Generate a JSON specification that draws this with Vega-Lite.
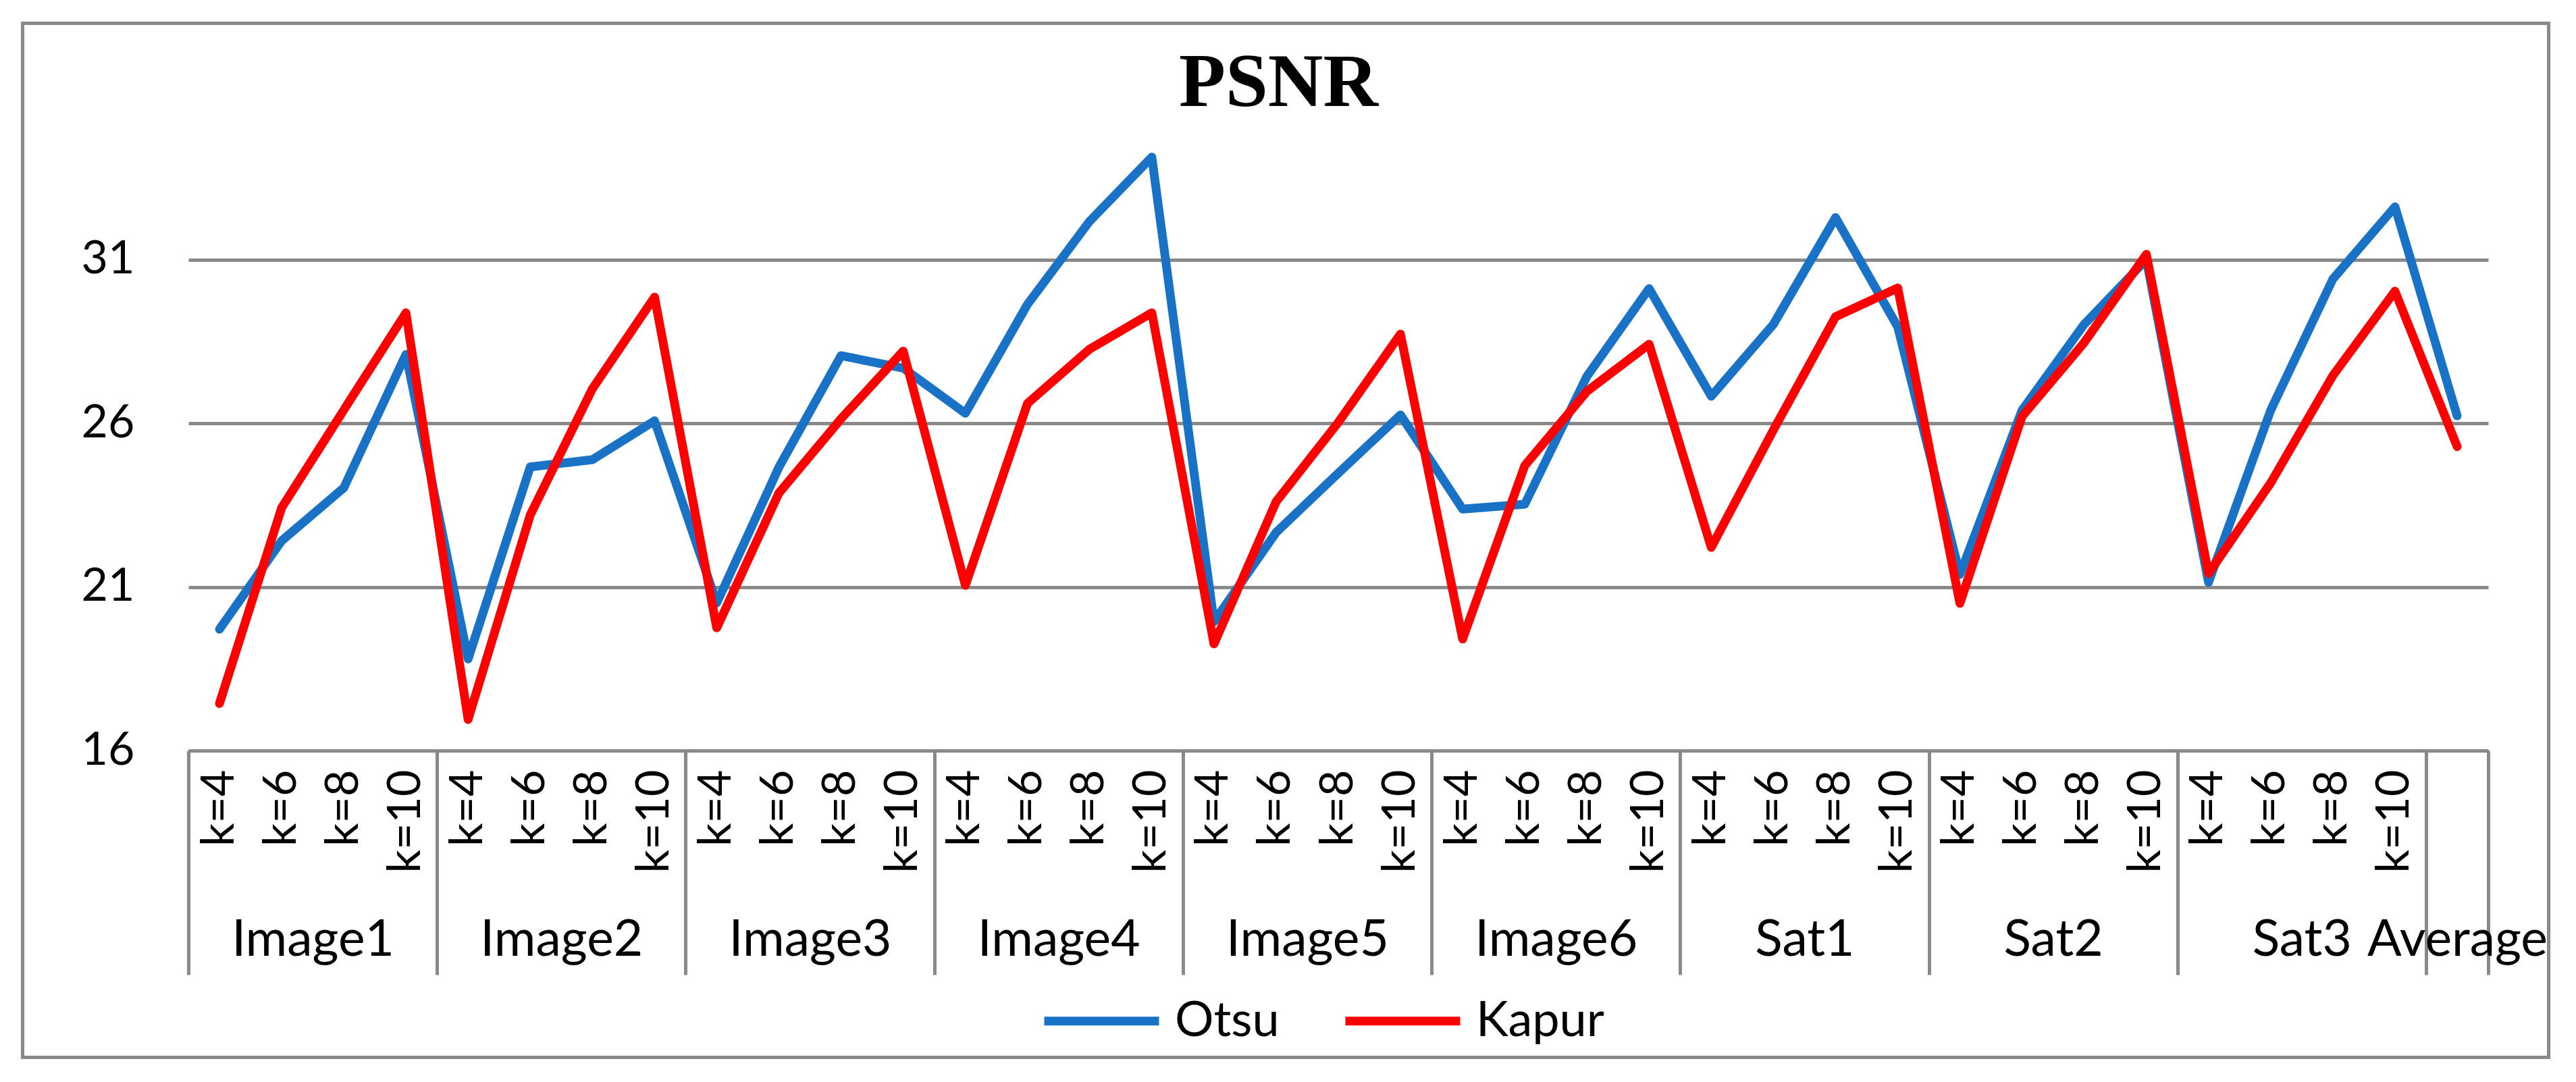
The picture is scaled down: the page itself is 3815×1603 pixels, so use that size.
{
 "$schema": "https://vega.github.io/schema/vega-lite/v6.json",
 "width": 3406,
 "height": 921,
 "autosize": {"type": "none"},
 "padding": {"left": 279, "top": 191, "right": 130, "bottom": 491},
 "background": "white",
 "data": {"values": [
  {"i":0,"cat":"Image1 k=4","method":"Otsu","psnr":19.71},
  {"i":1,"cat":"Image1 k=6","method":"Otsu","psnr":22.41},
  {"i":2,"cat":"Image1 k=8","method":"Otsu","psnr":24.03},
  {"i":3,"cat":"Image1 k=10","method":"Otsu","psnr":28.11},
  {"i":4,"cat":"Image2 k=4","method":"Otsu","psnr":18.80},
  {"i":5,"cat":"Image2 k=6","method":"Otsu","psnr":24.67},
  {"i":6,"cat":"Image2 k=8","method":"Otsu","psnr":24.89},
  {"i":7,"cat":"Image2 k=10","method":"Otsu","psnr":26.08},
  {"i":8,"cat":"Image3 k=4","method":"Otsu","psnr":20.51},
  {"i":9,"cat":"Image3 k=6","method":"Otsu","psnr":24.66},
  {"i":10,"cat":"Image3 k=8","method":"Otsu","psnr":28.07},
  {"i":11,"cat":"Image3 k=10","method":"Otsu","psnr":27.69},
  {"i":12,"cat":"Image4 k=4","method":"Otsu","psnr":26.31},
  {"i":13,"cat":"Image4 k=6","method":"Otsu","psnr":29.64},
  {"i":14,"cat":"Image4 k=8","method":"Otsu","psnr":32.18},
  {"i":15,"cat":"Image4 k=10","method":"Otsu","psnr":34.14},
  {"i":16,"cat":"Image5 k=4","method":"Otsu","psnr":19.94},
  {"i":17,"cat":"Image5 k=6","method":"Otsu","psnr":22.67},
  {"i":18,"cat":"Image5 k=8","method":"Otsu","psnr":24.48},
  {"i":19,"cat":"Image5 k=10","method":"Otsu","psnr":26.26},
  {"i":20,"cat":"Image6 k=4","method":"Otsu","psnr":23.38},
  {"i":21,"cat":"Image6 k=6","method":"Otsu","psnr":23.53},
  {"i":22,"cat":"Image6 k=8","method":"Otsu","psnr":27.44},
  {"i":23,"cat":"Image6 k=10","method":"Otsu","psnr":30.12},
  {"i":24,"cat":"Sat1 k=4","method":"Otsu","psnr":26.83},
  {"i":25,"cat":"Sat1 k=6","method":"Otsu","psnr":29.03},
  {"i":26,"cat":"Sat1 k=8","method":"Otsu","psnr":32.29},
  {"i":27,"cat":"Sat1 k=10","method":"Otsu","psnr":28.95},
  {"i":28,"cat":"Sat2 k=4","method":"Otsu","psnr":21.38},
  {"i":29,"cat":"Sat2 k=6","method":"Otsu","psnr":26.40},
  {"i":30,"cat":"Sat2 k=8","method":"Otsu","psnr":29.03},
  {"i":31,"cat":"Sat2 k=10","method":"Otsu","psnr":31.01},
  {"i":32,"cat":"Sat3 k=4","method":"Otsu","psnr":21.14},
  {"i":33,"cat":"Sat3 k=6","method":"Otsu","psnr":26.40},
  {"i":34,"cat":"Sat3 k=8","method":"Otsu","psnr":30.41},
  {"i":35,"cat":"Sat3 k=10","method":"Otsu","psnr":32.62},
  {"i":36,"cat":"Average","method":"Otsu","psnr":26.23},
  {"i":0,"cat":"Image1 k=4","method":"Kapur","psnr":17.44},
  {"i":1,"cat":"Image1 k=6","method":"Kapur","psnr":23.42},
  {"i":2,"cat":"Image1 k=8","method":"Kapur","psnr":26.41},
  {"i":3,"cat":"Image1 k=10","method":"Kapur","psnr":29.38},
  {"i":4,"cat":"Image2 k=4","method":"Kapur","psnr":16.95},
  {"i":5,"cat":"Image2 k=6","method":"Kapur","psnr":23.20},
  {"i":6,"cat":"Image2 k=8","method":"Kapur","psnr":27.06},
  {"i":7,"cat":"Image2 k=10","method":"Kapur","psnr":29.86},
  {"i":8,"cat":"Image3 k=4","method":"Kapur","psnr":19.75},
  {"i":9,"cat":"Image3 k=6","method":"Kapur","psnr":23.87},
  {"i":10,"cat":"Image3 k=8","method":"Kapur","psnr":26.14},
  {"i":11,"cat":"Image3 k=10","method":"Kapur","psnr":28.21},
  {"i":12,"cat":"Image4 k=4","method":"Kapur","psnr":21.05},
  {"i":13,"cat":"Image4 k=6","method":"Kapur","psnr":26.61},
  {"i":14,"cat":"Image4 k=8","method":"Kapur","psnr":28.27},
  {"i":15,"cat":"Image4 k=10","method":"Kapur","psnr":29.38},
  {"i":16,"cat":"Image5 k=4","method":"Kapur","psnr":19.26},
  {"i":17,"cat":"Image5 k=6","method":"Kapur","psnr":23.61},
  {"i":18,"cat":"Image5 k=8","method":"Kapur","psnr":26.03},
  {"i":19,"cat":"Image5 k=10","method":"Kapur","psnr":28.73},
  {"i":20,"cat":"Image6 k=4","method":"Kapur","psnr":19.41},
  {"i":21,"cat":"Image6 k=6","method":"Kapur","psnr":24.71},
  {"i":22,"cat":"Image6 k=8","method":"Kapur","psnr":26.98},
  {"i":23,"cat":"Image6 k=10","method":"Kapur","psnr":28.42},
  {"i":24,"cat":"Sat1 k=4","method":"Kapur","psnr":22.21},
  {"i":25,"cat":"Sat1 k=6","method":"Kapur","psnr":25.80},
  {"i":26,"cat":"Sat1 k=8","method":"Kapur","psnr":29.26},
  {"i":27,"cat":"Sat1 k=10","method":"Kapur","psnr":30.14},
  {"i":28,"cat":"Sat2 k=4","method":"Kapur","psnr":20.50},
  {"i":29,"cat":"Sat2 k=6","method":"Kapur","psnr":26.21},
  {"i":30,"cat":"Sat2 k=8","method":"Kapur","psnr":28.47},
  {"i":31,"cat":"Sat2 k=10","method":"Kapur","psnr":31.17},
  {"i":32,"cat":"Sat3 k=4","method":"Kapur","psnr":21.41},
  {"i":33,"cat":"Sat3 k=6","method":"Kapur","psnr":24.18},
  {"i":34,"cat":"Sat3 k=8","method":"Kapur","psnr":27.46},
  {"i":35,"cat":"Sat3 k=10","method":"Kapur","psnr":30.04},
  {"i":36,"cat":"Average","method":"Kapur","psnr":25.29}
 ]},
 "layer": [
  {
   "mark": {"type": "line", "strokeWidth": 13, "strokeCap": "round", "strokeJoin": "round"},
   "encoding": {
    "x": {"field": "cat", "type": "ordinal", "sort": null, "scale": {"type": "point", "padding": 0.5},
     "axis": {"orient": "bottom", "title": null, "labelAngle": 270, "labelAlign": "right", "labelBaseline": "middle",
      "labelExpr": "indexof(datum.label, ' ') < 0 ? '' : substring(datum.label, indexof(datum.label, ' ') + 1)",
      "labelFont": "Lato", "labelFontSize": 68, "labelColor": "black", "labelPadding": 28, "labelLimit": 0,
      "ticks": false, "grid": false, "domain": true, "domainColor": "#898989", "domainWidth": 5, "labelOverlap": false}},
    "y": {"field": "psnr", "type": "quantitative", "scale": {"domain": [16, 35], "nice": false, "zero": false},
     "axis": {"orient": "left", "title": null, "values": [16, 21, 26, 31], "grid": true, "gridColor": "#898989", "gridWidth": 5,
      "domain": false, "ticks": false, "labelFont": "Lato", "labelFontSize": 68, "labelColor": "black", "labelPadding": 80}},
    "color": {"field": "method", "type": "nominal", "scale": {"domain": ["Otsu", "Kapur"], "range": ["#1a72c6", "#ff0000"]},
     "legend": {"title": null, "orient": "none", "legendX": 1261, "legendY": 1230, "direction": "horizontal",
      "symbolType": "stroke", "symbolSize": 28900, "symbolStrokeWidth": 13, "labelFont": "Lato", "labelFontSize": 72,
      "labelColor": "black", "labelOffset": 17, "columnPadding": 71, "padding": 0, "labelLimit": 0}},
    "order": {"field": "i", "type": "quantitative"}
   }
  },
  {
   "mark": {"type": "point", "opacity": 0},
   "encoding": {
    "x": {"field": "i", "type": "quantitative", "scale": {"domain": [-0.5, 36.5], "nice": false, "zero": false},
     "axis": {"orient": "bottom", "title": null, "values": [-0.5, 3.5, 7.5, 11.5, 15.5, 19.5, 23.5, 27.5, 31.5, 35.5, 36.5],
      "labels": false, "domain": false, "grid": false, "ticks": true, "tickSize": 332, "tickColor": "#898989", "tickWidth": 5}}
   }
  },
  {
   "mark": {"type": "point", "opacity": 0},
   "encoding": {
    "x": {"field": "i", "type": "quantitative", "scale": {"domain": [-0.5, 36.5], "nice": false, "zero": false},
     "axis": {"orient": "bottom", "title": null, "values": [1.5, 5.5, 9.5, 13.5, 17.5, 21.5, 25.5, 29.5, 33.5, 36],
      "labelExpr": "['Image1','Image2','Image3','Image4','Image5','Image6','Sat1','Sat2','Sat3','Average'][datum.value == 36 ? 9 : (datum.value - 1.5) / 4]",
      "labels": true, "domain": false, "grid": false, "ticks": false, "tickSize": 0, "labelPadding": 303, "labelBaseline": "alphabetic",
      "labelFont": "Lato", "labelFontSize": 75, "labelColor": "black", "labelOverlap": false, "labelFlush": false, "labelBound": false, "labelLimit": 0}}
   }
  },
  {
   "mark": {"type": "point", "opacity": 0, "clip": true},
   "encoding": {
    "x": {"field": "i", "type": "quantitative", "scale": {"domain": [0, 1], "range": [-246, 3495], "nice": false, "zero": false},
     "axis": {"orient": "top", "offset": 157, "labels": false, "ticks": false, "grid": false, "domain": true,
      "domainColor": "#898989", "domainWidth": 5, "domainCap": "square",
      "title": "PSNR", "titleFont": "Liberation Serif", "titleFontSize": 113, "titleFontWeight": "bold", "titleColor": "black",
      "titleX": 1614, "titleY": 122, "titleAlign": "center", "titleBaseline": "alphabetic", "titleAngle": 0}},
    "y": {"field": "psnr", "type": "quantitative", "scale": {"domain": [0, 1], "range": [1375, -157], "nice": false, "zero": false},
     "axis": {"orient": "left", "offset": 246, "labels": false, "ticks": false, "grid": false, "domain": true,
      "domainColor": "#898989", "domainWidth": 5, "domainCap": "square", "title": null}}
   }
  },
  {
   "mark": {"type": "point", "opacity": 0, "clip": true},
   "encoding": {
    "x": {"field": "i", "type": "quantitative", "scale": {"domain": [0, 1], "range": [-246, 3495], "nice": false, "zero": false},
     "axis": {"orient": "bottom", "offset": 454, "labels": false, "ticks": false, "grid": false, "domain": true,
      "domainColor": "#898989", "domainWidth": 5, "domainCap": "square", "title": null}},
    "y": {"field": "psnr", "type": "quantitative", "scale": {"domain": [0, 1], "range": [1375, -157], "nice": false, "zero": false},
     "axis": {"orient": "right", "offset": 89, "labels": false, "ticks": false, "grid": false, "domain": true,
      "domainColor": "#898989", "domainWidth": 5, "domainCap": "square", "title": null}}
   }
  }
 ],
 "resolve": {"scale": {"x": "independent", "y": "independent"}, "axis": {"x": "independent", "y": "independent"}},
 "config": {"view": {"stroke": null}}
}
